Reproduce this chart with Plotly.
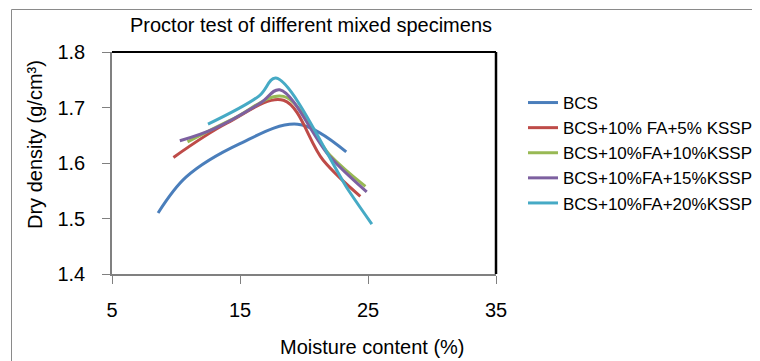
import plotly.graph_objects as go

# Data (moisture content %, dry density g/cm3)
series_names = ["BCS", "BCS+10% FA+5% KSSP", "BCS+10%FA+10%KSSP",
                "BCS+10%FA+15%KSSP", "BCS+10%FA+20%KSSP"]
bcs_x = [8.6, 10.8, 15.0, 19.5, 23.3]
bcs_y = [1.51, 1.575, 1.635, 1.670, 1.620]
fa5_x = [9.8, 14.0, 18.4, 21.5, 24.4]
fa5_y = [1.610, 1.672, 1.713, 1.605, 1.540]
fa10_x = [10.9, 14.5, 18.4, 22.0, 24.8]
fa10_y = [1.638, 1.680, 1.720, 1.615, 1.558]
fa15_x = [10.3, 13.0, 16.6, 18.1, 22.0, 24.9]
fa15_y = [1.640, 1.662, 1.708, 1.732, 1.612, 1.548]
fa20_x = [12.5, 16.5, 17.8, 23.5, 25.3]
fa20_y = [1.670, 1.721, 1.753, 1.550, 1.490]
colors = ["#4A7EBB", "#BE4B48", "#98B954", "#7D60A0", "#46AAC5"]

x_ticks = [5, 15, 25, 35]
y_ticks = [1.4, 1.5, 1.6, 1.7, 1.8]

FONT = "Liberation Sans, Arial, sans-serif"

fig = go.Figure()
for name, xs, ys, c in zip(series_names,
                           [bcs_x, fa5_x, fa10_x, fa15_x, fa20_x],
                           [bcs_y, fa5_y, fa10_y, fa15_y, fa20_y], colors):
    fig.add_trace(go.Scatter(x=xs, y=ys, name=name, mode="lines",
                             line=dict(color=c, width=3, shape="spline", smoothing=1)))

# page body has an 8px margin: figure pixel = window pixel - 8
OFF = 8
W, H = 760 - OFF, 361 - OFF
ml, mt = 112 - OFF, 52 - OFF
pw, ph = 384, 222
mr, mb = W - ml - pw, H - mt - ph

def px2paper_x(px):
    return (px - OFF - ml) / pw

def px2paper_y(py):
    return 1 - (py - OFF - mt) / ph

fig.update_layout(
    width=W, height=H,
    margin=dict(l=ml, r=mr, t=mt, b=mb, pad=0, autoexpand=False),
    paper_bgcolor="white", plot_bgcolor="white",
    font=dict(family=FONT, size=20, color="black"),
    showlegend=True,
    legend=dict(x=px2paper_x(523), y=px2paper_y(153), xanchor="left", yanchor="middle",
                font=dict(size=17, family=FONT), bgcolor="rgba(0,0,0,0)",
                borderwidth=0, tracegroupgap=0),
    xaxis=dict(range=[5, 35], tickvals=x_ticks, ticktext=[str(v) for v in x_ticks],
               showgrid=False, zeroline=False, showline=True, linecolor="#808080",
               linewidth=1.5, ticks="outside", ticklen=8, tickcolor="#808080",
               tickfont=dict(size=20), ticklabelstandoff=9),
    yaxis=dict(range=[1.4, 1.8], tickvals=y_ticks, ticktext=[f"{v:.1f}" for v in y_ticks],
               showgrid=False, zeroline=False, showline=True, linecolor="#808080",
               linewidth=1.5, ticks="outside", ticklen=8, tickcolor="#808080",
               tickfont=dict(size=20), ticklabelstandoff=13),
    shapes=[
        dict(type="line", xref="x domain", yref="y domain", x0=0, x1=1, y0=1, y1=1,
             line=dict(color="black", width=2)),
        dict(type="line", xref="x domain", yref="y domain", x0=1, x1=1, y0=0, y1=1,
             line=dict(color="black", width=2.5)),
        dict(type="rect", xref="paper", yref="paper",
             x0=px2paper_x(11.5), x1=px2paper_x(800), y0=px2paper_y(400), y1=px2paper_y(9.5),
             line=dict(color="#8a8a8a", width=1), layer="below"),
    ],
    annotations=[
        dict(text="Proctor test of different mixed specimens", xref="paper", yref="paper",
             x=px2paper_x(311), y=px2paper_y(25), xanchor="center", yanchor="middle",
             showarrow=False, font=dict(size=20)),
        dict(text="Moisture content (%)", xref="paper", yref="paper",
             x=px2paper_x(372), y=px2paper_y(347), xanchor="center", yanchor="middle",
             showarrow=False, font=dict(size=20)),
        dict(text="Dry density (g/cm³)", xref="paper", yref="paper",
             x=px2paper_x(35), y=px2paper_y(145), xanchor="center", yanchor="middle",
             textangle=-90, showarrow=False, font=dict(size=20)),
    ],
)

fig.write_html("out.html")
